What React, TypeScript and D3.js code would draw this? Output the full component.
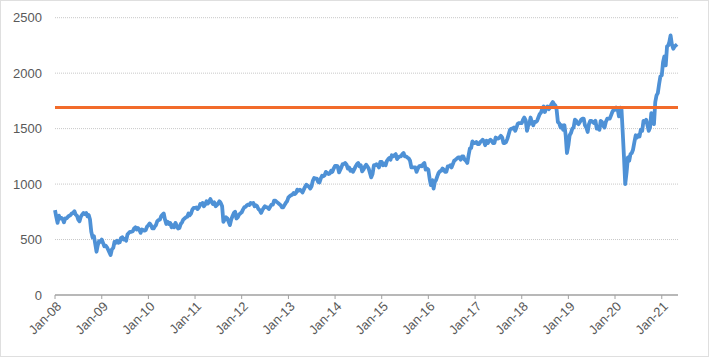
import React from "react";
import * as d3 from "d3";

// Index level, sampled on the 1st, 11th and 21st of each month, Jan-2008 .. May-2021
const v2008 = [766, 705, 650, 715, 690, 695, 685, 655, 690, 690, 705, 715, 720, 735, 740, 755, 725, 715, 680, 665, 705, 725, 740, 730, 740, 710, 720, 680, 570, 520, 530, 460, 390, 450, 485, 480];
const v2009 = [500, 470, 440, 445, 430, 405, 385, 360, 410, 425, 480, 470, 490, 470, 475, 515, 520, 500, 505, 490, 545, 560, 570, 570, 575, 600, 610, 590, 605, 590, 560, 590, 585, 580, 585, 615];
const v2010 = [630, 645, 630, 600, 600, 620, 630, 665, 675, 680, 710, 725, 735, 680, 640, 660, 640, 650, 610, 630, 610, 650, 625, 600, 605, 640, 655, 680, 690, 700, 705, 735, 720, 735, 770, 785];
const v2011 = [785, 790, 775, 790, 820, 815, 830, 800, 815, 845, 825, 840, 865, 840, 820, 835, 800, 810, 825, 845, 830, 800, 660, 680, 700, 690, 660, 630, 680, 710, 740, 750, 690, 700, 725, 735];
const v2012 = [745, 770, 790, 795, 810, 815, 810, 830, 825, 830, 800, 810, 800, 775, 765, 740, 765, 785, 800, 790, 790, 775, 795, 815, 815, 850, 850, 840, 830, 820, 810, 790, 790, 810, 830, 845];
const v2013 = [880, 890, 900, 905, 920, 910, 920, 950, 940, 950, 940, 925, 950, 975, 995, 985, 975, 960, 980, 1030, 1055, 1050, 1050, 1020, 1015, 1050, 1075, 1070, 1080, 1110, 1100, 1090, 1095, 1120, 1110, 1140];
const v2014 = [1165, 1165, 1160, 1105, 1130, 1155, 1180, 1180, 1190, 1175, 1140, 1150, 1120, 1130, 1110, 1135, 1160, 1180, 1190, 1160, 1170, 1115, 1130, 1155, 1175, 1160, 1140, 1100, 1060, 1090, 1170, 1170, 1180, 1170, 1150, 1200];
const v2015 = [1200, 1170, 1185, 1170, 1210, 1225, 1235, 1220, 1260, 1250, 1260, 1270, 1225, 1240, 1250, 1250, 1270, 1280, 1250, 1250, 1240, 1230, 1210, 1150, 1150, 1150, 1150, 1110, 1140, 1160, 1165, 1160, 1180, 1190, 1130, 1140];
const v2016 = [1130, 1050, 990, 1035, 960, 1020, 1035, 1070, 1100, 1115, 1120, 1140, 1130, 1110, 1110, 1160, 1160, 1170, 1150, 1180, 1210, 1220, 1230, 1240, 1240, 1220, 1250, 1250, 1220, 1210, 1190, 1260, 1320, 1325, 1385, 1370];
const v2017 = [1370, 1380, 1360, 1360, 1380, 1390, 1400, 1385, 1350, 1390, 1370, 1390, 1400, 1390, 1370, 1370, 1420, 1410, 1410, 1420, 1435, 1420, 1370, 1370, 1380, 1410, 1450, 1490, 1500, 1500, 1510, 1480, 1510, 1545, 1550, 1550];
const v2018 = [1550, 1580, 1600, 1575, 1480, 1530, 1540, 1600, 1560, 1530, 1560, 1560, 1570, 1600, 1630, 1645, 1680, 1700, 1650, 1680, 1700, 1675, 1690, 1720, 1740, 1720, 1710, 1670, 1560, 1550, 1510, 1530, 1490, 1530, 1440, 1280];
const v2019 = [1350, 1440, 1460, 1500, 1510, 1580, 1575, 1550, 1540, 1560, 1580, 1590, 1590, 1530, 1510, 1470, 1540, 1570, 1570, 1560, 1550, 1570, 1500, 1500, 1490, 1570, 1560, 1525, 1510, 1560, 1590, 1590, 1590, 1620, 1650, 1670];
const v2020 = [1670, 1690, 1680, 1610, 1690, 1670, 1475, 1250, 1000, 1110, 1240, 1210, 1270, 1280, 1310, 1380, 1440, 1420, 1440, 1430, 1490, 1480, 1570, 1560, 1580, 1530, 1480, 1510, 1640, 1610, 1540, 1740, 1800, 1820, 1900, 1970];
const v2021 = [1980, 2100, 2150, 2070, 2240, 2250, 2280, 2340, 2260, 2220, 2240, 2250, 2260];

const values: number[] = [
  ...v2008, ...v2009, ...v2010, ...v2011, ...v2012, ...v2013, ...v2014,
  ...v2015, ...v2016, ...v2017, ...v2018, ...v2019, ...v2020, ...v2021,
];
const sampleDays = [1, 11, 21];
const startYear = 2008;

const thresholdValue = 1690;
const yTicks = [0, 500, 1000, 1500, 2000, 2500];
const xTickYears = [2008, 2009, 2010, 2011, 2012, 2013, 2014, 2015, 2016, 2017, 2018, 2019, 2020, 2021];

const data = values.map((v, i) => {
  const m = Math.floor(i / 3);
  return { date: new Date(startYear + Math.floor(m / 12), m % 12, sampleDays[i % 3]), value: v };
});

const W = 710;
const H = 358;
const left = 55;
const right = 678;
const top = 17.7;
const bottom = 295;

export default function App() {
  const x = d3.scaleTime().domain([new Date(2008, 0, 1), new Date(2021, 4, 8)]).range([left, right]);
  const y = d3.scaleLinear().domain([0, 2500]).range([bottom, top]);
  const line = d3
    .line<{ date: Date; value: number }>()
    .x((d) => x(d.date))
    .y((d) => y(d.value))
    .curve(d3.curveLinear);
  const font = "'Liberation Sans', Arial, sans-serif";
  return (
    <svg
      width={W}
      height={H}
      style={{ position: "absolute", left: 0, top: 0, background: "#fff" }}
    >
      <rect x={0.5} y={0.5} width={W - 2} height={H - 2} fill="#fff" stroke="#BFBFBF" strokeDasharray="1,1" />
      {yTicks.map((t) =>
        t === 0 ? null : (
          <line key={t} x1={left} x2={right} y1={y(t)} y2={y(t)} stroke="#C8C8C8" strokeWidth={1} strokeDasharray="1,1" />
        )
      )}
      {yTicks.map((t) => (
        <text
          key={"l" + t}
          x={42}
          y={y(t)}
          textAnchor="end"
          dominantBaseline="central"
          fontFamily={font}
          fontSize={13}
          fill="#595959"
        >
          {t}
        </text>
      ))}
      <line x1={left} x2={right} y1={bottom} y2={bottom} stroke="#A0A0A0" strokeWidth={1.5} />
      {xTickYears.map((yr) => {
        const xx = x(new Date(yr, 0, 1));
        return (
          <g key={yr}>
            <line x1={xx} x2={xx} y1={bottom} y2={bottom + 4} stroke="#A0A0A0" strokeWidth={1} />
            <text
              transform={`translate(${xx + 4},${bottom + 9}) rotate(-45)`}
              textAnchor="end"
              dominantBaseline="central"
              fontFamily={font}
              fontSize={13}
              fill="#595959"
            >
              {`Jan-${String(yr % 100).padStart(2, "0")}`}
            </text>
          </g>
        );
      })}
      <path d={line(data) || ""} fill="none" stroke="#4E91D6" strokeWidth={3.8} strokeLinejoin="round" />
      <line
        x1={left}
        x2={right}
        y1={y(thresholdValue)}
        y2={y(thresholdValue)}
        stroke="#F26B2A"
        strokeWidth={3}
      />
    </svg>
  );
}
